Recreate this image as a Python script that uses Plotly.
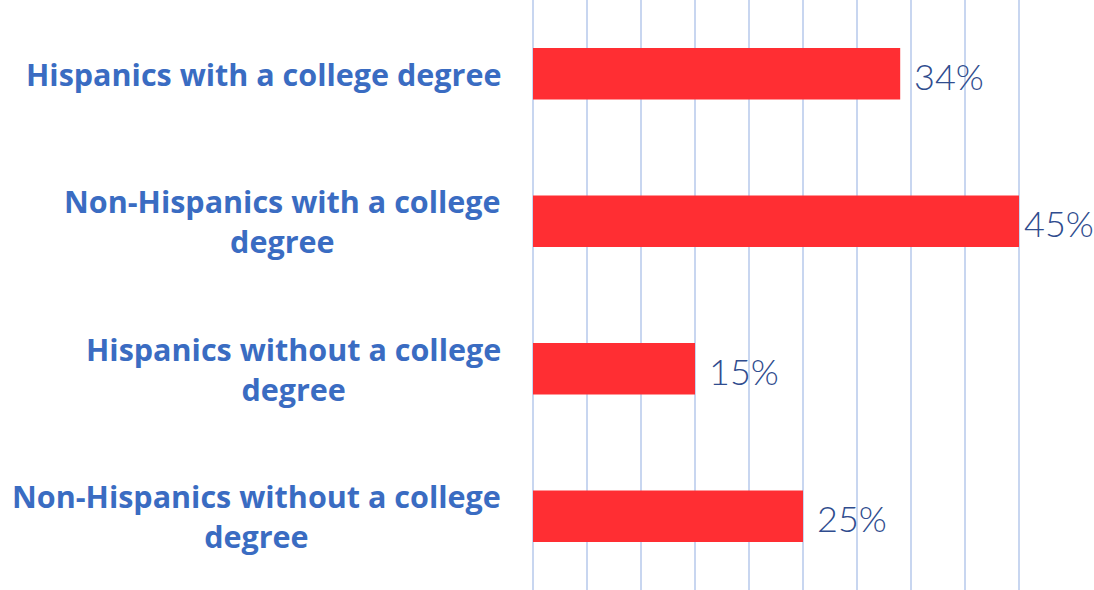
import plotly.graph_objects as go

categories = [
    "Hispanics with a college degree",
    "Non-Hispanics with a college<br>degree",
    "Hispanics without a college<br>degree",
    "Non-Hispanics without a college<br>degree",
]
values = [34, 45, 15, 25]
value_labels = ["34%", "45%", "15%", "25%"]

bar_color = "#FF2E33"
label_color = "#3A6CC2"
value_color = "#2F4C8E"
grid_color = "#C8D6F0"

X_MAX = 50
PLOT_W = 1094 - 533 - 21
RIGHT_MARGIN = 21
LABEL_W = 72
GAP = 12

fig = go.Figure()
fig.add_trace(go.Bar(
    y=list(range(len(categories))),
    x=values,
    orientation="h",
    marker=dict(color=bar_color, line=dict(width=0)),
    width=0.35,
    hoverinfo="skip",
))

annotations = []
for i, (cat, v, lab) in enumerate(zip(categories, values, value_labels)):
    annotations.append(dict(
        x=0, xref="paper", y=i, yref="y",
        text="<b>" + cat + "</b>",
        xanchor="right", yanchor="middle", align="center", showarrow=False,
        xshift=-30,
        font=dict(family="Open Sans, sans-serif", size=30.5, color=label_color),
    ))
    room = (X_MAX - v) / X_MAX * PLOT_W + RIGHT_MARGIN
    shift = GAP if room >= LABEL_W + GAP else max(2, room - LABEL_W)
    annotations.append(dict(
        x=v, xref="x", y=i, yref="y", text=lab,
        xanchor="left", yanchor="middle", showarrow=False, xshift=shift, yshift=-2,
        font=dict(family="Lato, Open Sans, sans-serif", size=36, color=value_color, weight=300),
    ))

fig.update_layout(
    width=1094, height=590,
    margin=dict(l=533, r=RIGHT_MARGIN, t=0, b=0),
    paper_bgcolor="white", plot_bgcolor="white",
    showlegend=False,
    xaxis=dict(range=[0, X_MAX], dtick=5, showgrid=True, gridcolor=grid_color, gridwidth=2,
               showticklabels=False, zeroline=True, zerolinecolor=grid_color, zerolinewidth=2,
               showline=False, fixedrange=True),
    yaxis=dict(range=[3.5, -0.5], showticklabels=False, showgrid=False, zeroline=False,
               showline=False, fixedrange=True),
    annotations=annotations,
)

fig.write_html("out.html")
